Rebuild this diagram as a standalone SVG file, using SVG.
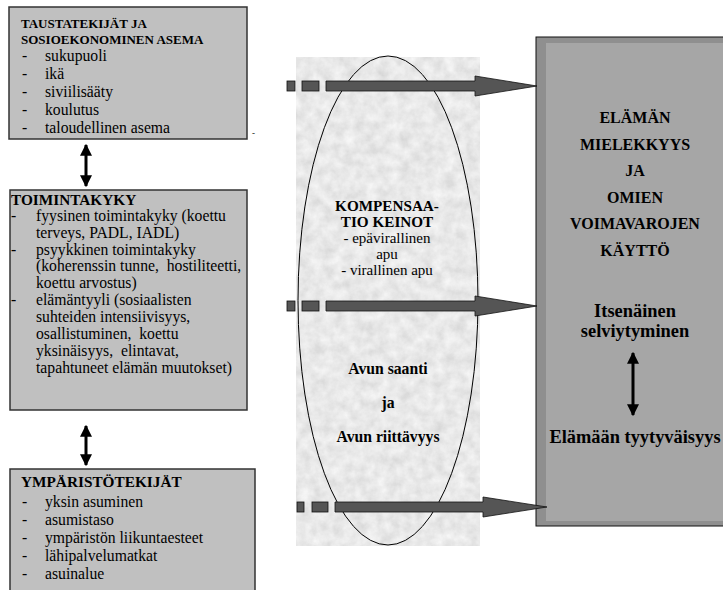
<svg xmlns="http://www.w3.org/2000/svg" width="723" height="590" viewBox="0 0 723 590">
<style>
.box{fill:#c0c0c0;stroke:#333;stroke-width:1.5}
.t{font-family:"Liberation Serif","Times New Roman",serif;fill:#000}
.b{font-weight:bold}
.s13{font-size:13px}
.s15{font-size:15px}
.body{font-size:15.7px}
.hd{font-size:15.3px}
.mb{font-size:15.7px}
.mh{font-size:15.2px}
.cap{font-size:16px}
.s18{font-size:18.4px}
.mid{text-anchor:middle}
.harrow{fill:#555;stroke:#111;stroke-width:0.8}
.varrow{stroke:#000;stroke-width:3;fill:none}
</style>
<defs>
<marker id="ah" viewBox="0 0 10 10" refX="9" refY="5" markerWidth="4" markerHeight="4" orient="auto-start-reverse" markerUnits="strokeWidth">
<path d="M0,0 L10,5 L0,10 z" fill="#000"/>
</marker>
<filter id="tex" x="0" y="0" width="100%" height="100%">
<feTurbulence type="fractalNoise" baseFrequency="0.09" numOctaves="4" seed="5" result="n"/>
<feColorMatrix in="n" type="matrix" values="0.3 0 0 0 0.66  0.3 0 0 0 0.66  0.3 0 0 0 0.66  0 0 0 0 1" result="g"/>
<feComposite in="g" in2="SourceGraphic" operator="in"/>
</filter>
</defs>

<g id="taustatekijat">
<rect class="box" x="9" y="7" width="238" height="132"/>
<text class="t b s13" x="21" y="28">TAUSTATEKIJÄT JA</text>
<text class="t b s13" x="21" y="44">SOSIOEKONOMINEN ASEMA</text>
<g class="t body">
<text x="22" y="61">-</text><text x="45" y="61">sukupuoli</text>
<text x="22" y="79">-</text><text x="45" y="79">ikä</text>
<text x="22" y="97">-</text><text x="45" y="97">siviilisääty</text>
<text x="22" y="115">-</text><text x="45" y="115">koulutus</text>
<text x="22" y="133">-</text><text x="45" y="133">taloudellinen asema</text>
</g>
<text class="t" x="252" y="136" font-size="9">-</text>
</g>

<g id="toimintakyky">
<rect class="box" x="10" y="190" width="237" height="220"/>
<text class="t b hd" x="11" y="205">TOIMINTAKYKY</text>
<g class="t body">
<text x="11" y="221">-</text><text x="36" y="221">fyysinen toimintakyky (koettu</text>
<text x="36" y="238">terveys, PADL, IADL)</text>
<text x="11" y="255">-</text><text x="36" y="255">psyykkinen toimintakyky</text>
<text x="36" y="271" xml:space="preserve">(koherenssin tunne,  hostiliteetti,</text>
<text x="36" y="288">koettu arvostus)</text>
<text x="11" y="305">-</text><text x="36" y="305">elämäntyyli (sosiaalisten</text>
<text x="36" y="322">suhteiden intensiivisyys,</text>
<text x="36" y="339" xml:space="preserve">osallistuminen,  koettu</text>
<text x="36" y="356" xml:space="preserve">yksinäisyys,  elintavat,</text>
<text x="36" y="373">tapahtuneet elämän muutokset)</text>
</g>
</g>

<g id="ymparistotekijat">
<rect class="box" x="10" y="469" width="245" height="140"/>
<text class="t b hd" x="21" y="487">YMPÄRISTÖTEKIJÄT</text>
<g class="t body">
<text x="22" y="507">-</text><text x="45" y="507">yksin asuminen</text>
<text x="22" y="525">-</text><text x="45" y="525">asumistaso</text>
<text x="22" y="543">-</text><text x="45" y="543">ympäristön liikuntaesteet</text>
<text x="22" y="561">-</text><text x="45" y="561">lähipalvelumatkat</text>
<text x="22" y="579">-</text><text x="45" y="579">asuinalue</text>
</g>
</g>

<g id="kompensaatio">
<rect x="296" y="57" width="184" height="489" fill="#cbcbcb" filter="url(#tex)"/>
<ellipse cx="388" cy="300.5" rx="90" ry="244.5" fill="none" stroke="#000" stroke-width="1"/>
<text class="t b mh mid" x="387" y="211">KOMPENSAA-</text>
<text class="t b mh mid" x="387" y="227">TIO KEINOT</text>
<text class="t s15 mid" x="387" y="243">- epävirallinen</text>
<text class="t s15 mid" x="387" y="259">apu</text>
<text class="t s15 mid" x="387" y="275">- virallinen apu</text>
<text class="t b mb mid" x="388" y="374">Avun saanti</text>
<text class="t b mb mid" x="388" y="408">ja</text>
<text class="t b mb mid" x="388" y="442">Avun riittävyys</text>
</g>

<g id="tulokset">
<rect x="536" y="37" width="200" height="489" fill="#8f8f8f" stroke="#111" stroke-width="1"/>
<rect x="546" y="43" width="190" height="478" fill="#a6a6a6"/>
<g class="t b cap mid">
<text x="635" y="123">ELÄMÄN</text>
<text x="635" y="150">MIELEKKYYS</text>
<text x="635" y="176">JA</text>
<text x="635" y="203">OMIEN</text>
<text x="635" y="229">VOIMAVAROJEN</text>
<text x="635" y="256">KÄYTTÖ</text>
</g>
<text class="t b s18 mid" x="635" y="317">Itsenäinen</text>
<text class="t b s18 mid" x="635" y="337">selviytyminen</text>
<text class="t b s18 mid" x="635" y="443">Elämään tyytyväisyys</text>
</g>

<g id="connectors">
<line class="varrow" x1="86" y1="145" x2="86" y2="186" marker-start="url(#ah)" marker-end="url(#ah)"/>
<line class="varrow" x1="86" y1="426" x2="86" y2="465" marker-start="url(#ah)" marker-end="url(#ah)"/>
<line class="varrow" x1="633" y1="353" x2="633" y2="415" marker-start="url(#ah)" marker-end="url(#ah)"/>
<g class="harrow">
<rect x="287" y="81" width="8" height="10"/>
<rect x="302" y="81" width="17" height="10"/>
<polygon points="326,81 475,81 475,76 537,86 475,96 475,91 326,91"/>
<rect x="287" y="301" width="8" height="10"/>
<rect x="302" y="301" width="17" height="10"/>
<polygon points="326,301 475,301 475,296 537,306 475,316 475,311 326,311"/>
<rect x="297" y="502" width="7" height="10"/>
<rect x="312" y="502" width="16" height="10"/>
<polygon points="335,502 483,502 483,497 547,507 483,517 483,512 335,512"/>
</g>
</g>
</svg>
